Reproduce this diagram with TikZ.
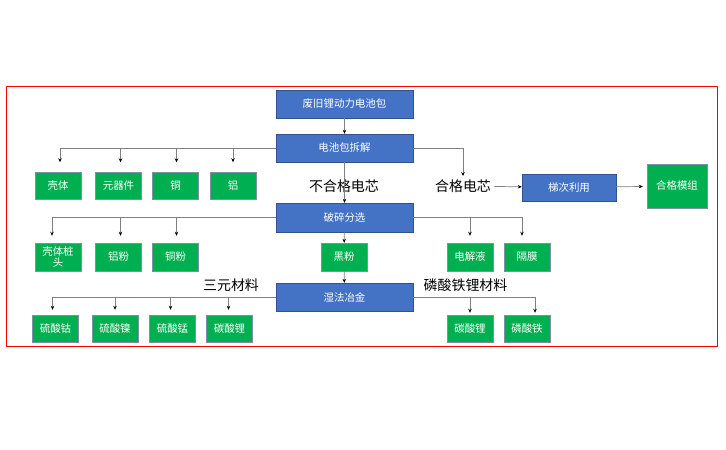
\documentclass[tikz,border=0pt]{standalone}
\usepackage{fontspec}
\setmainfont{Noto Sans CJK SC}
\usepackage{tikz}
\usetikzlibrary{arrows.meta}
\definecolor{boxblue}{HTML}{4472C4}
\definecolor{edgeblue}{HTML}{2F528F}
\definecolor{boxgreen}{HTML}{00B050}
\definecolor{edgegreen}{HTML}{7F8FA6}
\definecolor{linegray}{HTML}{808080}

\begin{document}
\begin{tikzpicture}[
  bluebox/.style={draw=edgeblue,fill=boxblue,text=white,inner sep=0pt,minimum width=137bp,minimum height=28bp,font=\fontsize{10.5}{12}\selectfont},
  greenbox/.style={draw=edgegreen,fill=boxgreen,text=white,inner sep=0pt,minimum width=46bp,minimum height=27bp,align=center,font=\fontsize{10.5}{11}\selectfont},
  bigtext/.style={font=\fontsize{14}{16}\selectfont},
  conn/.style={draw=linegray,line width=0.7bp,-{Stealth[length=4bp,width=3.5bp,black]}}
]
\useasboundingbox (0,0) rectangle (726bp,-450bp);
\draw [red,line width=0.8bp] (6bp,-86bp) rectangle (717bp,-346bp);
% main column
\node (B1) at (344.5bp,-104bp)[bluebox] {废旧锂动力电池包};
\node (B2) at (344.5bp,-148bp)[bluebox] {电池包拆解};
\node (B3) at (344.5bp,-217.5bp)[bluebox,minimum height=29bp] {破碎分选};
\node (B4) at (344.5bp,-297bp)[bluebox] {湿法冶金};
\node (B5) at (569bp,-187.5bp)[bluebox,minimum width=94bp,minimum height=27bp] {梯次利用};
\node (M1) at (677bp,-186bp)[greenbox,minimum width=60bp,minimum height=44bp] {合格模组};
\node (L1) at (344bp,-186bp)[bigtext] {不合格电芯};
\node (L2) at (463bp,-186bp)[bigtext] {合格电芯};
\node (L3) at (231bp,-285bp)[bigtext] {三元材料};
\node (L4) at (465.5bp,-285bp)[bigtext] {磷酸铁锂材料};
% row 1
\node (C1) at (58bp,-186bp)[greenbox] {壳体};
\node (C2) at (118.5bp,-186bp)[greenbox] {元器件};
\node (C3) at (175.5bp,-186bp)[greenbox] {铜};
\node (C4) at (233bp,-186bp)[greenbox] {铝};
% row 2
\node (D1) at (58bp,-257bp)[greenbox,minimum height=28bp] {壳体桩\\头};
\node (D2) at (118.5bp,-257bp)[greenbox,minimum height=28bp] {铝粉};
\node (D3) at (175.5bp,-257bp)[greenbox,minimum height=28bp] {铜粉};
\node (D4) at (344bp,-257bp)[greenbox,minimum height=28bp] {黑粉};
\node (D5) at (470bp,-257bp)[greenbox,minimum height=28bp] {电解液};
\node (D6) at (527bp,-257bp)[greenbox,minimum height=28bp] {隔膜};
% row 3
\node (E1) at (55.5bp,-328.5bp)[greenbox] {硫酸钴};
\node (E2) at (115bp,-328.5bp)[greenbox] {硫酸镍};
\node (E3) at (172.5bp,-328.5bp)[greenbox] {硫酸锰};
\node (E4) at (229.5bp,-328.5bp)[greenbox] {碳酸锂};
\node (E5) at (470bp,-328.5bp)[greenbox] {碳酸锂};
\node (E6) at (527bp,-328.5bp)[greenbox] {磷酸铁};
% links
\draw [conn] (B1) -- (B2);
\draw [conn] (B2) -- (B3);
\draw [conn] (B3) -- (D4);
\draw [conn] (D4) -- (B4);
\draw [conn] (B2.east) -| (L2.north);
\draw [conn] (L2) -- (B5);
\draw [conn,shorten >=4bp] (B5) -- (M1);
\draw [conn,shorten >=10bp] (B2.west) -| ([xshift=2bp]C1.north);
\draw [conn,shorten >=10bp] (B2.west) -| ([xshift=2bp]C2.north);
\draw [conn,shorten >=10bp] (B2.west) -| ([xshift=1bp]C3.north);
\draw [conn,shorten >=10bp] (B2.west) -| (C4.north);
\draw [conn,shorten >=7bp] (B3.west) -| ([xshift=-6bp]D1.north);
\draw [conn,shorten >=7bp] (B3.west) -| ([xshift=2bp]D2.north);
\draw [conn,shorten >=7bp] (B3.west) -| ([xshift=1bp]D3.north);
\draw [conn,shorten >=7bp] (B3.east) -| (D5.north);
\draw [conn,shorten >=7bp] (B3.east) -| ([xshift=-5bp]D6.north);
\draw [conn,shorten >=5bp] (B4.west) -| ([xshift=-3bp]E1.north);
\draw [conn,shorten >=5bp] (B4.west) -| (E2.north);
\draw [conn,shorten >=5bp] (B4.west) -| ([xshift=-2bp]E3.north);
\draw [conn,shorten >=5bp] (B4.west) -| ([xshift=-1bp]E4.north);
\draw [conn,shorten >=2bp] (B4.east) -| (E5.north);
\draw [conn,shorten >=2bp] (B4.east) -| ([xshift=8bp]E6.north);
\end{tikzpicture}
\end{document}
